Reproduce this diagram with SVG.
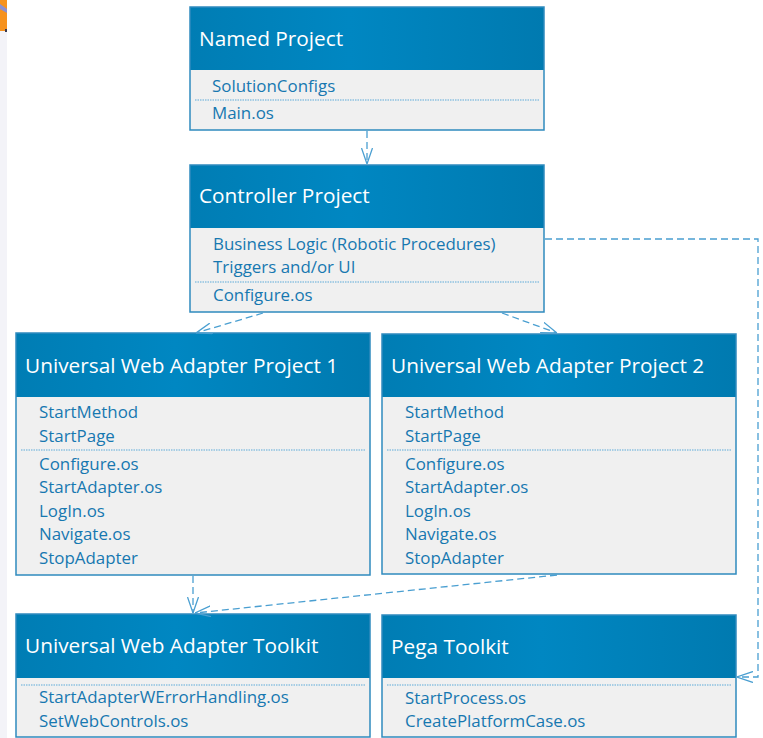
<svg xmlns="http://www.w3.org/2000/svg" width="763" height="738" viewBox="0 0 763 738">
  <style>
    .hdr { fill: url(#hdrGrad); }
    .body { fill: #F0F0F0; }
    .frame { fill: none; stroke: #2F8BBE; stroke-width: 1.5; }
    .title { font-family: "Open Sans", "Noto Sans", sans-serif; font-size: 20.8px; fill: #FFFFFF; }
    .item { font-family: "Open Sans", "Noto Sans", sans-serif; font-size: 16.9px; fill: #1778B0; }
    .sep { stroke: #5DAAD8; stroke-width: 1; stroke-dasharray: 1.5 1; }
    .dep { fill: none; stroke: #4A9FD1; stroke-width: 1.3; stroke-dasharray: 7 4; }
  </style>
  <defs>
    <linearGradient id="hdrGrad" x1="0" y1="0" x2="1" y2="0">
      <stop offset="0" stop-color="#007DB4"/>
      <stop offset="0.45" stop-color="#0087C2"/>
      <stop offset="1" stop-color="#007AB0"/>
    </linearGradient>
    <marker id="open" viewBox="0 0 16 12" refX="16" refY="6" markerWidth="16" markerHeight="12" markerUnits="userSpaceOnUse" orient="auto">
      <path d="M0,0.5 L16,6 L0,11.5" fill="none" stroke="#4A9FD1" stroke-width="1.3"/>
    </marker>
  </defs>

  <rect width="763" height="738" fill="#FFFFFF"/>

  <!-- left margin strip with a partial icon -->
  <rect x="0" y="0" width="7" height="738" fill="#F3F3F8"/>
  <path d="M0,0 H7 V29 L5,31 H0 Z" fill="#F6921E"/>
  <path d="M0,4 L7,9 L7,13 L0,9 Z" fill="#8C90CF"/>
  <rect x="5" y="29" width="2" height="3" fill="#3A3A50"/>

  <g id="named-project">
    <rect class="hdr" x="190" y="7" width="354" height="63"/>
    <rect class="body" x="190" y="70" width="354" height="60"/>
    <rect class="frame" x="190" y="7" width="354" height="123"/>
    <text class="title" x="199" y="46">Named Project</text>
    <text class="item" x="212" y="92">SolutionConfigs</text>
    <line class="sep" x1="195" y1="100" x2="539" y2="100"/>
    <text class="item" x="212" y="119">Main.os</text>
  </g>

  <g id="controller-project">
    <rect class="hdr" x="190" y="165" width="354" height="63"/>
    <rect class="body" x="190" y="228" width="354" height="84"/>
    <rect class="frame" x="190" y="165" width="354" height="147"/>
    <text class="title" x="199" y="203">Controller Project</text>
    <text class="item" x="213" y="250">Business Logic (Robotic Procedures)</text>
    <text class="item" x="213" y="273">Triggers and/or UI</text>
    <line class="sep" x1="195" y1="282" x2="539" y2="282"/>
    <text class="item" x="213" y="301">Configure.os</text>
  </g>

  <g id="adapter-project-1">
    <rect class="hdr" x="16" y="333" width="354" height="64"/>
    <rect class="body" x="16" y="397" width="354" height="178"/>
    <rect class="frame" x="16" y="333" width="354" height="242"/>
    <text class="title" x="25" y="373">Universal Web Adapter Project 1</text>
    <text class="item" x="39" y="418">StartMethod</text>
    <text class="item" x="39" y="442">StartPage</text>
    <line class="sep" x1="21" y1="450" x2="365" y2="450"/>
    <text class="item" x="39" y="470">Configure.os</text>
    <text class="item" x="39" y="493">StartAdapter.os</text>
    <text class="item" x="39" y="517">LogIn.os</text>
    <text class="item" x="39" y="540">Navigate.os</text>
    <text class="item" x="39" y="564">StopAdapter</text>
  </g>

  <g id="adapter-project-2">
    <rect class="hdr" x="382" y="334" width="354" height="63"/>
    <rect class="body" x="382" y="397" width="354" height="177"/>
    <rect class="frame" x="382" y="334" width="354" height="240"/>
    <text class="title" x="391" y="373">Universal Web Adapter Project 2</text>
    <text class="item" x="405" y="418">StartMethod</text>
    <text class="item" x="405" y="442">StartPage</text>
    <line class="sep" x1="387" y1="450" x2="731" y2="450"/>
    <text class="item" x="405" y="470">Configure.os</text>
    <text class="item" x="405" y="493">StartAdapter.os</text>
    <text class="item" x="405" y="517">LogIn.os</text>
    <text class="item" x="405" y="540">Navigate.os</text>
    <text class="item" x="405" y="564">StopAdapter</text>
  </g>

  <g id="adapter-toolkit">
    <rect class="hdr" x="16" y="614" width="354" height="64"/>
    <rect class="body" x="16" y="678" width="354" height="59"/>
    <rect class="frame" x="16" y="614" width="354" height="123"/>
    <text class="title" x="25" y="653">Universal Web Adapter Toolkit</text>
    <line class="sep" x1="21" y1="685" x2="365" y2="685"/>
    <text class="item" x="39" y="703">StartAdapterWErrorHandling.os</text>
    <text class="item" x="39" y="727">SetWebControls.os</text>
  </g>

  <g id="pega-toolkit">
    <rect class="hdr" x="382" y="615" width="354" height="63"/>
    <rect class="body" x="382" y="678" width="354" height="59"/>
    <rect class="frame" x="382" y="615" width="354" height="122"/>
    <text class="title" x="391" y="654">Pega Toolkit</text>
    <line class="sep" x1="387" y1="685" x2="731" y2="685"/>
    <text class="item" x="405" y="704">StartProcess.os</text>
    <text class="item" x="405" y="727">CreatePlatformCase.os</text>
  </g>

  <g id="connectors">
    <path class="dep" d="M367,131 V164" marker-end="url(#open)"/>
    <path class="dep" d="M263,313 L196,333" marker-end="url(#open)"/>
    <path class="dep" d="M502,313 L557,333" marker-end="url(#open)"/>
    <path class="dep" d="M545,239 H758 V677 H737" marker-end="url(#open)"/>
    <path class="dep" d="M193,576 V613" marker-end="url(#open)"/>
    <path class="dep" d="M557,575 L195,613" marker-end="url(#open)"/>
  </g>
</svg>
